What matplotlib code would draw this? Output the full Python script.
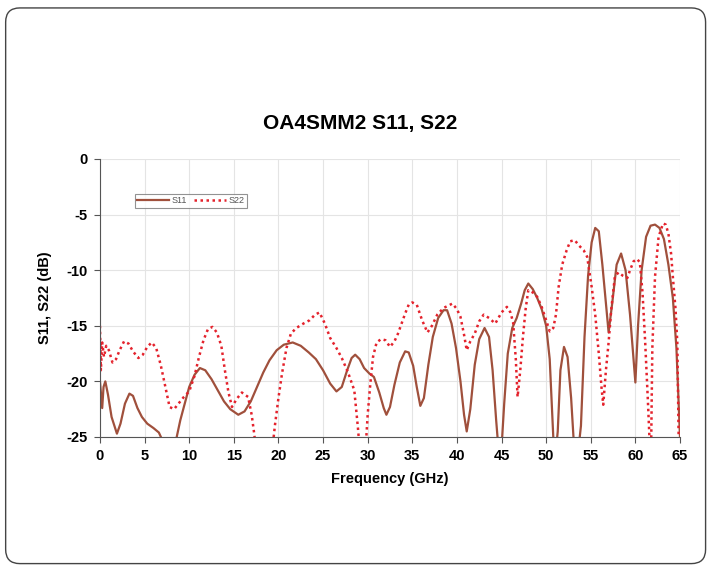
import matplotlib
matplotlib.use("Agg")
import matplotlib.pyplot as plt
from matplotlib.patches import FancyBboxPatch

plt.rcParams['font.family'] = ['Liberation Sans', 'DejaVu Sans']
plt.rcParams['axes.unicode_minus'] = False

# S11 trace (GHz, dB)
s11_freq = [0.0, 0.15, 0.25, 0.4, 0.6, 0.9, 1.3, 1.9, 2.3, 2.8, 3.3, 3.7, 4.2, 4.7, 5.3, 6.0,
            6.6, 7.0, 7.6, 8.2, 8.6, 9.0, 9.5, 10.0, 10.6, 11.2, 11.8, 12.5, 13.2, 13.9, 14.6,
            15.5, 16.2, 16.9, 17.6, 18.3, 19.0, 19.8, 20.6, 21.6, 22.5, 23.4, 24.2, 25.0, 25.8,
            26.5, 27.1, 27.7, 28.2, 28.6, 29.1, 29.6, 30.2, 30.7, 31.3, 31.8, 32.1, 32.5, 33.0,
            33.6, 34.2, 34.6, 35.1, 35.5, 35.9, 36.3, 36.8, 37.3, 37.9, 38.5, 38.9, 39.4, 39.9,
            40.4, 40.8, 41.1, 41.5, 42.0, 42.5, 43.1, 43.6, 44.0, 44.4, 44.7, 45.0, 45.3, 45.7,
            46.2, 46.7, 47.2, 47.6, 48.0, 48.5, 49.0, 49.5, 50.0, 50.4, 50.8, 51.0, 51.3, 51.6,
            52.0, 52.4, 52.8, 53.1, 53.5, 53.9, 54.3, 54.7, 55.1, 55.5, 55.9, 56.3, 56.7, 57.0,
            57.4, 57.9, 58.4, 58.9, 59.4, 59.8, 60.0, 60.3, 60.7, 61.2, 61.7, 62.2, 62.7, 63.2,
            63.7, 64.2, 64.6, 65.0]
s11_db = [-20.0, -21.5, -22.4, -20.5, -20.0, -21.2, -23.2, -24.7, -23.8, -22.0, -21.1, -21.3,
          -22.4, -23.2, -23.8, -24.2, -24.6, -25.3, -26.5, -26.0, -25.0, -23.5, -22.0, -20.5,
          -19.4, -18.8, -19.0, -19.8, -20.8, -21.8, -22.5, -23.0, -22.7, -21.8, -20.5, -19.2,
          -18.1, -17.2, -16.7, -16.5, -16.8, -17.4, -18.0, -19.0, -20.2, -20.9, -20.5, -19.0,
          -17.9, -17.6, -18.0, -18.8, -19.3, -19.6, -21.0, -22.4, -23.0, -22.3, -20.3, -18.3,
          -17.3, -17.4, -18.6, -20.5, -22.2, -21.5, -18.5, -16.0, -14.3, -13.6, -13.6, -14.8,
          -17.0, -20.0, -23.0, -24.5, -22.5, -18.5, -16.2, -15.2, -16.0, -19.0, -23.5, -26.5,
          -26.0, -22.0, -17.5, -15.2, -14.3, -13.0, -11.8, -11.2, -11.7, -12.5, -13.5, -15.0,
          -18.0, -25.0, -27.0, -24.5, -19.0, -16.9, -17.8, -21.5, -25.5, -27.0, -24.0, -16.0,
          -10.5, -7.5, -6.2, -6.5, -9.5, -13.0, -15.6, -13.0, -9.5, -8.5, -10.0, -14.0, -18.0,
          -20.1, -15.0, -10.0, -7.0, -6.0, -5.9, -6.2, -7.2, -9.5, -12.5, -17.0, -25.0]

# S22 trace (GHz, dB)
s22_freq = [0.0, 0.1, 0.25, 0.45, 0.7, 1.0, 1.4, 1.8, 2.2, 2.7, 3.2, 3.7, 4.3, 4.8, 5.3, 5.8,
            6.3, 6.8, 7.2, 7.8, 8.3, 8.8, 9.4, 10.0, 10.6, 11.1, 11.6, 12.1, 12.6, 13.1, 13.6,
            14.0, 14.4, 14.8, 15.3, 15.9, 16.6, 17.0, 17.3, 17.6, 19.2, 19.6, 20.0, 20.4, 20.9,
            21.4, 22.0, 22.8, 23.5, 24.1, 24.6, 25.2, 25.8, 26.5, 27.1, 27.8, 28.5, 28.9, 29.2,
            29.7, 30.0, 30.3, 30.6, 31.0, 31.5, 32.0, 32.5, 33.0, 33.4, 33.8, 34.2, 34.6, 35.0,
            35.5, 36.1, 36.7, 37.2, 37.8, 38.5, 39.0, 39.5, 40.0, 40.4, 40.8, 41.1, 41.5, 42.0,
            42.5, 43.0, 43.6, 44.3, 45.0, 45.6, 46.0, 46.3, 46.6, 46.8, 47.1, 47.4, 47.7, 48.0,
            48.5, 49.0, 49.5, 50.0, 50.4, 50.8, 51.1, 51.4, 51.8, 52.3, 52.7, 53.2, 53.7, 54.2,
            54.6, 55.1, 55.5, 55.9, 56.2, 56.4, 56.7, 57.0, 57.3, 57.7, 58.1, 58.6, 59.1, 59.4,
            59.8, 60.2, 60.5, 60.8, 61.1, 61.4, 61.6, 61.75, 61.9, 62.2, 62.6, 63.1, 63.4, 63.7,
            64.0, 64.2, 64.5, 64.7, 64.85]
s22_db = [-15.0, -19.0, -16.5, -17.8, -16.8, -17.2, -18.3, -18.0, -17.2, -16.4, -16.6, -17.3,
          -17.9, -17.6, -16.9, -16.5, -17.0, -18.5, -20.0, -22.3, -22.5, -22.0, -21.4, -20.9,
          -19.5, -17.8, -16.3, -15.3, -15.1, -15.6, -16.8, -19.0, -21.0, -22.3, -21.6, -21.0,
          -21.4, -23.0, -24.8, -27.0, -27.0, -24.0, -21.5, -19.3, -17.0, -15.7, -15.2, -14.8,
          -14.5, -14.0, -13.8, -14.8, -16.1, -17.0, -17.9, -19.2, -20.8, -24.1, -27.0, -27.0,
          -23.0, -20.2, -17.8, -16.5, -16.2, -16.3, -16.9, -16.4, -15.7, -14.8, -13.9, -13.1,
          -12.9, -13.1, -14.5, -15.6, -15.0, -14.0, -13.4, -13.2, -13.0, -13.5, -14.2, -15.8,
          -17.2, -16.4, -15.7, -14.6, -14.0, -14.3, -14.8, -13.8, -13.3, -13.8, -14.7, -18.0,
          -21.4, -19.0, -16.0, -13.5, -11.8, -12.0, -12.4, -13.3, -14.5, -15.5, -15.2, -14.0,
          -11.5, -9.5, -8.2, -7.4, -7.3, -7.8, -8.2, -8.8, -11.5, -14.0, -17.5, -20.5, -22.1,
          -19.0, -16.5, -13.5, -10.6, -10.2, -10.5, -10.7, -10.0, -9.2, -9.0, -9.3, -12.0,
          -16.5, -21.7, -25.5, -27.0, -17.0, -10.6, -7.0, -5.8, -5.9, -6.7, -8.5, -10.6, -13.5,
          -16.5, -25.0]

x_ticks = [0, 5, 10, 15, 20, 25, 30, 35, 40, 45, 50, 55, 60, 65]
y_ticks = [0, -5, -10, -15, -20, -25]

fig = plt.figure(figsize=(7.07, 5.67), dpi=100)

# rounded outer frame
frame = FancyBboxPatch((0.008, 0.006), 0.99, 0.98, boxstyle="round,pad=0,rounding_size=0.02",
                       transform=fig.transFigure, facecolor='none', edgecolor='#444444',
                       linewidth=1.0, mutation_aspect=707 / 567, zorder=-1)
fig.patches.append(frame)

ax = fig.add_axes([0.1414, 0.2293, 0.8204, 0.4903])
ax.patch.set_alpha(0)

ax.plot(s11_freq, s11_db, color='#A0503C', linewidth=1.6, label='S11')
ax.plot(s22_freq, s22_db, color='#E4222C', linewidth=1.8, linestyle=(0, (1.0, 1.4)),
        label='S22')

ax.set_xlim(0, 65)
ax.set_ylim(-25, 0)
ax.set_xticks(x_ticks)
ax.set_yticks(y_ticks)
ax.grid(True, color='#e4e4e4', linewidth=0.8)
ax.set_axisbelow(True)

for s in ['top', 'right']:
    ax.spines[s].set_visible(False)
for s in ['left', 'bottom']:
    ax.spines[s].set_color('#555555')
ax.tick_params(direction='out', length=4, color='#555555', labelsize=10.5, pad=5)
for lab in ax.get_xticklabels() + ax.get_yticklabels():
    lab.set_fontweight('bold')

ax.set_xlabel('Frequency (GHz)', fontsize=10.5, fontweight='bold', labelpad=6)
ax.set_ylabel('S11, S22 (dB)', fontsize=10.5, fontweight='bold', labelpad=10)
fig.text(0.509, 0.783, 'OA4SMM2 S11, S22', ha='center', va='center', fontsize=15,
         fontweight='bold')

leg = ax.legend(loc='upper left', bbox_to_anchor=(0.06, 0.875), ncol=2, fontsize=6.5,
                frameon=True, fancybox=False, edgecolor='#777777', handlelength=3.5,
                columnspacing=0.8, handletextpad=0.3, borderpad=0.3, borderaxespad=0)
leg.get_frame().set_linewidth(0.8)
for t in leg.get_texts():
    t.set_color('#555555')

fig.savefig('out.png', dpi=100)
